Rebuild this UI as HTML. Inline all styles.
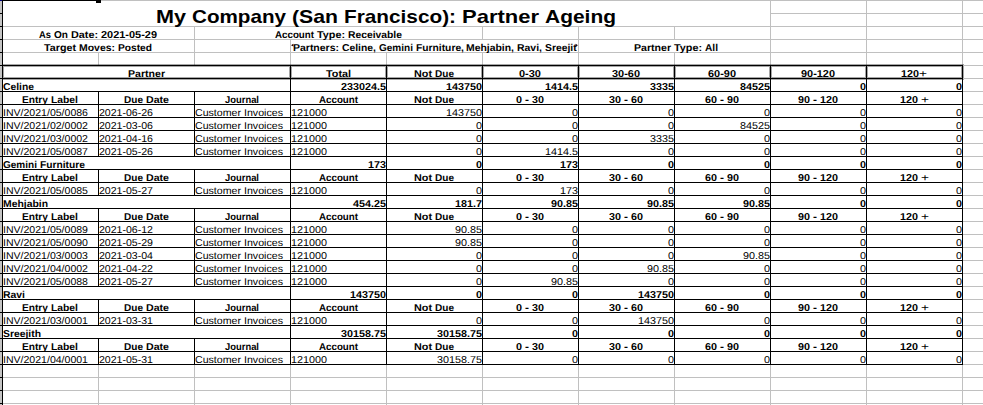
<!DOCTYPE html><html><head><meta charset="utf-8"><title>Partner Ageing</title><style>
html,body{margin:0;padding:0;background:#fff}
body{width:983px;height:405px;position:relative;overflow:hidden;font-family:"Liberation Sans", sans-serif;color:#000}
.l{position:absolute}
.w{position:absolute;display:block;white-space:pre;height:13px;line-height:13px;transform-origin:0 50%}
.R{font-size:10px;font-weight:400}.B{font-size:10px;font-weight:700}.T{font-size:19px;font-weight:700;height:26px;line-height:26px}
.clip{position:absolute;overflow:hidden;height:13px}
.T{-webkit-text-stroke:0px #000}.B{-webkit-text-stroke:0px #000}.R{-webkit-text-stroke:0px #000}
</style></head><body>
<div class="l" style="left:0px;top:0px;width:983px;height:1px;background:#c0c0c0"></div>
<div class="l" style="left:770px;top:13px;width:213px;height:1px;background:#c0c0c0"></div>
<div class="l" style="left:2px;top:26px;width:981px;height:1px;background:#c0c0c0"></div>
<div class="l" style="left:2px;top:39px;width:981px;height:1px;background:#c0c0c0"></div>
<div class="l" style="left:2px;top:52px;width:981px;height:1px;background:#c0c0c0"></div>
<div class="l" style="left:962px;top:65px;width:21px;height:1px;background:#c0c0c0"></div>
<div class="l" style="left:962px;top:78px;width:21px;height:1px;background:#c0c0c0"></div>
<div class="l" style="left:962px;top:91px;width:21px;height:1px;background:#c0c0c0"></div>
<div class="l" style="left:962px;top:104px;width:21px;height:1px;background:#c0c0c0"></div>
<div class="l" style="left:962px;top:117px;width:21px;height:1px;background:#c0c0c0"></div>
<div class="l" style="left:962px;top:130px;width:21px;height:1px;background:#c0c0c0"></div>
<div class="l" style="left:962px;top:143px;width:21px;height:1px;background:#c0c0c0"></div>
<div class="l" style="left:962px;top:156px;width:21px;height:1px;background:#c0c0c0"></div>
<div class="l" style="left:962px;top:169px;width:21px;height:1px;background:#c0c0c0"></div>
<div class="l" style="left:962px;top:182px;width:21px;height:1px;background:#c0c0c0"></div>
<div class="l" style="left:962px;top:195px;width:21px;height:1px;background:#c0c0c0"></div>
<div class="l" style="left:962px;top:208px;width:21px;height:1px;background:#c0c0c0"></div>
<div class="l" style="left:962px;top:221px;width:21px;height:1px;background:#c0c0c0"></div>
<div class="l" style="left:962px;top:234px;width:21px;height:1px;background:#c0c0c0"></div>
<div class="l" style="left:962px;top:247px;width:21px;height:1px;background:#c0c0c0"></div>
<div class="l" style="left:962px;top:260px;width:21px;height:1px;background:#c0c0c0"></div>
<div class="l" style="left:962px;top:273px;width:21px;height:1px;background:#c0c0c0"></div>
<div class="l" style="left:962px;top:286px;width:21px;height:1px;background:#c0c0c0"></div>
<div class="l" style="left:962px;top:299px;width:21px;height:1px;background:#c0c0c0"></div>
<div class="l" style="left:962px;top:312px;width:21px;height:1px;background:#c0c0c0"></div>
<div class="l" style="left:962px;top:325px;width:21px;height:1px;background:#c0c0c0"></div>
<div class="l" style="left:962px;top:338px;width:21px;height:1px;background:#c0c0c0"></div>
<div class="l" style="left:962px;top:351px;width:21px;height:1px;background:#c0c0c0"></div>
<div class="l" style="left:962px;top:364px;width:21px;height:1px;background:#c0c0c0"></div>
<div class="l" style="left:2px;top:377px;width:981px;height:1px;background:#c0c0c0"></div>
<div class="l" style="left:2px;top:390px;width:981px;height:1px;background:#c0c0c0"></div>
<div class="l" style="left:2px;top:403px;width:981px;height:1px;background:#c0c0c0"></div>
<div class="l" style="left:770px;top:0px;width:1px;height:65px;background:#c0c0c0"></div>
<div class="l" style="left:866px;top:0px;width:1px;height:65px;background:#c0c0c0"></div>
<div class="l" style="left:962px;top:0px;width:1px;height:65px;background:#c0c0c0"></div>
<div class="l" style="left:194px;top:26px;width:1px;height:39px;background:#c0c0c0"></div>
<div class="l" style="left:482px;top:26px;width:1px;height:13px;background:#c0c0c0"></div>
<div class="l" style="left:578px;top:26px;width:1px;height:39px;background:#c0c0c0"></div>
<div class="l" style="left:674px;top:26px;width:1px;height:13px;background:#c0c0c0"></div>
<div class="l" style="left:674px;top:52px;width:1px;height:13px;background:#c0c0c0"></div>
<div class="l" style="left:290px;top:39px;width:1px;height:26px;background:#c0c0c0"></div>
<div class="l" style="left:98px;top:52px;width:1px;height:13px;background:#c0c0c0"></div>
<div class="l" style="left:386px;top:52px;width:1px;height:13px;background:#c0c0c0"></div>
<div class="l" style="left:482px;top:52px;width:1px;height:13px;background:#c0c0c0"></div>
<div class="l" style="left:98px;top:364px;width:1px;height:41px;background:#c0c0c0"></div>
<div class="l" style="left:194px;top:364px;width:1px;height:41px;background:#c0c0c0"></div>
<div class="l" style="left:290px;top:364px;width:1px;height:41px;background:#c0c0c0"></div>
<div class="l" style="left:386px;top:364px;width:1px;height:41px;background:#c0c0c0"></div>
<div class="l" style="left:482px;top:364px;width:1px;height:41px;background:#c0c0c0"></div>
<div class="l" style="left:578px;top:364px;width:1px;height:41px;background:#c0c0c0"></div>
<div class="l" style="left:674px;top:364px;width:1px;height:41px;background:#c0c0c0"></div>
<div class="l" style="left:770px;top:364px;width:1px;height:41px;background:#c0c0c0"></div>
<div class="l" style="left:866px;top:364px;width:1px;height:41px;background:#c0c0c0"></div>
<div class="l" style="left:962px;top:364px;width:1px;height:41px;background:#c0c0c0"></div>
<div class="l" style="left:2px;top:78px;width:961px;height:1px;background:#000"></div>
<div class="l" style="left:2px;top:91px;width:961px;height:1px;background:#000"></div>
<div class="l" style="left:2px;top:104px;width:961px;height:1px;background:#000"></div>
<div class="l" style="left:2px;top:117px;width:961px;height:1px;background:#000"></div>
<div class="l" style="left:2px;top:130px;width:961px;height:1px;background:#000"></div>
<div class="l" style="left:2px;top:143px;width:961px;height:1px;background:#000"></div>
<div class="l" style="left:2px;top:156px;width:961px;height:1px;background:#000"></div>
<div class="l" style="left:2px;top:169px;width:961px;height:1px;background:#000"></div>
<div class="l" style="left:2px;top:182px;width:961px;height:1px;background:#000"></div>
<div class="l" style="left:2px;top:195px;width:961px;height:1px;background:#000"></div>
<div class="l" style="left:2px;top:208px;width:961px;height:1px;background:#000"></div>
<div class="l" style="left:2px;top:221px;width:961px;height:1px;background:#000"></div>
<div class="l" style="left:2px;top:234px;width:961px;height:1px;background:#000"></div>
<div class="l" style="left:2px;top:247px;width:961px;height:1px;background:#000"></div>
<div class="l" style="left:2px;top:260px;width:961px;height:1px;background:#000"></div>
<div class="l" style="left:2px;top:273px;width:961px;height:1px;background:#000"></div>
<div class="l" style="left:2px;top:286px;width:961px;height:1px;background:#000"></div>
<div class="l" style="left:2px;top:299px;width:961px;height:1px;background:#000"></div>
<div class="l" style="left:2px;top:312px;width:961px;height:1px;background:#000"></div>
<div class="l" style="left:2px;top:325px;width:961px;height:1px;background:#000"></div>
<div class="l" style="left:2px;top:338px;width:961px;height:1px;background:#000"></div>
<div class="l" style="left:2px;top:351px;width:961px;height:1px;background:#000"></div>
<div class="l" style="left:2px;top:364px;width:961px;height:1px;background:#000"></div>
<div class="l" style="left:290px;top:78px;width:1px;height:14px;background:#000"></div>
<div class="l" style="left:386px;top:78px;width:1px;height:14px;background:#000"></div>
<div class="l" style="left:482px;top:78px;width:1px;height:14px;background:#000"></div>
<div class="l" style="left:578px;top:78px;width:1px;height:14px;background:#000"></div>
<div class="l" style="left:674px;top:78px;width:1px;height:14px;background:#000"></div>
<div class="l" style="left:770px;top:78px;width:1px;height:14px;background:#000"></div>
<div class="l" style="left:866px;top:78px;width:1px;height:14px;background:#000"></div>
<div class="l" style="left:962px;top:78px;width:1px;height:14px;background:#000"></div>
<div class="l" style="left:98px;top:91px;width:1px;height:14px;background:#000"></div>
<div class="l" style="left:194px;top:91px;width:1px;height:14px;background:#000"></div>
<div class="l" style="left:290px;top:91px;width:1px;height:14px;background:#000"></div>
<div class="l" style="left:386px;top:91px;width:1px;height:14px;background:#000"></div>
<div class="l" style="left:482px;top:91px;width:1px;height:14px;background:#000"></div>
<div class="l" style="left:578px;top:91px;width:1px;height:14px;background:#000"></div>
<div class="l" style="left:674px;top:91px;width:1px;height:14px;background:#000"></div>
<div class="l" style="left:770px;top:91px;width:1px;height:14px;background:#000"></div>
<div class="l" style="left:866px;top:91px;width:1px;height:14px;background:#000"></div>
<div class="l" style="left:962px;top:91px;width:1px;height:14px;background:#000"></div>
<div class="l" style="left:98px;top:104px;width:1px;height:14px;background:#000"></div>
<div class="l" style="left:194px;top:104px;width:1px;height:14px;background:#000"></div>
<div class="l" style="left:290px;top:104px;width:1px;height:14px;background:#000"></div>
<div class="l" style="left:386px;top:104px;width:1px;height:14px;background:#000"></div>
<div class="l" style="left:482px;top:104px;width:1px;height:14px;background:#000"></div>
<div class="l" style="left:578px;top:104px;width:1px;height:14px;background:#000"></div>
<div class="l" style="left:674px;top:104px;width:1px;height:14px;background:#000"></div>
<div class="l" style="left:770px;top:104px;width:1px;height:14px;background:#000"></div>
<div class="l" style="left:866px;top:104px;width:1px;height:14px;background:#000"></div>
<div class="l" style="left:962px;top:104px;width:1px;height:14px;background:#000"></div>
<div class="l" style="left:98px;top:117px;width:1px;height:14px;background:#000"></div>
<div class="l" style="left:194px;top:117px;width:1px;height:14px;background:#000"></div>
<div class="l" style="left:290px;top:117px;width:1px;height:14px;background:#000"></div>
<div class="l" style="left:386px;top:117px;width:1px;height:14px;background:#000"></div>
<div class="l" style="left:482px;top:117px;width:1px;height:14px;background:#000"></div>
<div class="l" style="left:578px;top:117px;width:1px;height:14px;background:#000"></div>
<div class="l" style="left:674px;top:117px;width:1px;height:14px;background:#000"></div>
<div class="l" style="left:770px;top:117px;width:1px;height:14px;background:#000"></div>
<div class="l" style="left:866px;top:117px;width:1px;height:14px;background:#000"></div>
<div class="l" style="left:962px;top:117px;width:1px;height:14px;background:#000"></div>
<div class="l" style="left:98px;top:130px;width:1px;height:14px;background:#000"></div>
<div class="l" style="left:194px;top:130px;width:1px;height:14px;background:#000"></div>
<div class="l" style="left:290px;top:130px;width:1px;height:14px;background:#000"></div>
<div class="l" style="left:386px;top:130px;width:1px;height:14px;background:#000"></div>
<div class="l" style="left:482px;top:130px;width:1px;height:14px;background:#000"></div>
<div class="l" style="left:578px;top:130px;width:1px;height:14px;background:#000"></div>
<div class="l" style="left:674px;top:130px;width:1px;height:14px;background:#000"></div>
<div class="l" style="left:770px;top:130px;width:1px;height:14px;background:#000"></div>
<div class="l" style="left:866px;top:130px;width:1px;height:14px;background:#000"></div>
<div class="l" style="left:962px;top:130px;width:1px;height:14px;background:#000"></div>
<div class="l" style="left:98px;top:143px;width:1px;height:14px;background:#000"></div>
<div class="l" style="left:194px;top:143px;width:1px;height:14px;background:#000"></div>
<div class="l" style="left:290px;top:143px;width:1px;height:14px;background:#000"></div>
<div class="l" style="left:386px;top:143px;width:1px;height:14px;background:#000"></div>
<div class="l" style="left:482px;top:143px;width:1px;height:14px;background:#000"></div>
<div class="l" style="left:578px;top:143px;width:1px;height:14px;background:#000"></div>
<div class="l" style="left:674px;top:143px;width:1px;height:14px;background:#000"></div>
<div class="l" style="left:770px;top:143px;width:1px;height:14px;background:#000"></div>
<div class="l" style="left:866px;top:143px;width:1px;height:14px;background:#000"></div>
<div class="l" style="left:962px;top:143px;width:1px;height:14px;background:#000"></div>
<div class="l" style="left:290px;top:156px;width:1px;height:14px;background:#000"></div>
<div class="l" style="left:386px;top:156px;width:1px;height:14px;background:#000"></div>
<div class="l" style="left:482px;top:156px;width:1px;height:14px;background:#000"></div>
<div class="l" style="left:578px;top:156px;width:1px;height:14px;background:#000"></div>
<div class="l" style="left:674px;top:156px;width:1px;height:14px;background:#000"></div>
<div class="l" style="left:770px;top:156px;width:1px;height:14px;background:#000"></div>
<div class="l" style="left:866px;top:156px;width:1px;height:14px;background:#000"></div>
<div class="l" style="left:962px;top:156px;width:1px;height:14px;background:#000"></div>
<div class="l" style="left:98px;top:169px;width:1px;height:14px;background:#000"></div>
<div class="l" style="left:194px;top:169px;width:1px;height:14px;background:#000"></div>
<div class="l" style="left:290px;top:169px;width:1px;height:14px;background:#000"></div>
<div class="l" style="left:386px;top:169px;width:1px;height:14px;background:#000"></div>
<div class="l" style="left:482px;top:169px;width:1px;height:14px;background:#000"></div>
<div class="l" style="left:578px;top:169px;width:1px;height:14px;background:#000"></div>
<div class="l" style="left:674px;top:169px;width:1px;height:14px;background:#000"></div>
<div class="l" style="left:770px;top:169px;width:1px;height:14px;background:#000"></div>
<div class="l" style="left:866px;top:169px;width:1px;height:14px;background:#000"></div>
<div class="l" style="left:962px;top:169px;width:1px;height:14px;background:#000"></div>
<div class="l" style="left:98px;top:182px;width:1px;height:14px;background:#000"></div>
<div class="l" style="left:194px;top:182px;width:1px;height:14px;background:#000"></div>
<div class="l" style="left:290px;top:182px;width:1px;height:14px;background:#000"></div>
<div class="l" style="left:386px;top:182px;width:1px;height:14px;background:#000"></div>
<div class="l" style="left:482px;top:182px;width:1px;height:14px;background:#000"></div>
<div class="l" style="left:578px;top:182px;width:1px;height:14px;background:#000"></div>
<div class="l" style="left:674px;top:182px;width:1px;height:14px;background:#000"></div>
<div class="l" style="left:770px;top:182px;width:1px;height:14px;background:#000"></div>
<div class="l" style="left:866px;top:182px;width:1px;height:14px;background:#000"></div>
<div class="l" style="left:962px;top:182px;width:1px;height:14px;background:#000"></div>
<div class="l" style="left:290px;top:195px;width:1px;height:14px;background:#000"></div>
<div class="l" style="left:386px;top:195px;width:1px;height:14px;background:#000"></div>
<div class="l" style="left:482px;top:195px;width:1px;height:14px;background:#000"></div>
<div class="l" style="left:578px;top:195px;width:1px;height:14px;background:#000"></div>
<div class="l" style="left:674px;top:195px;width:1px;height:14px;background:#000"></div>
<div class="l" style="left:770px;top:195px;width:1px;height:14px;background:#000"></div>
<div class="l" style="left:866px;top:195px;width:1px;height:14px;background:#000"></div>
<div class="l" style="left:962px;top:195px;width:1px;height:14px;background:#000"></div>
<div class="l" style="left:98px;top:208px;width:1px;height:14px;background:#000"></div>
<div class="l" style="left:194px;top:208px;width:1px;height:14px;background:#000"></div>
<div class="l" style="left:290px;top:208px;width:1px;height:14px;background:#000"></div>
<div class="l" style="left:386px;top:208px;width:1px;height:14px;background:#000"></div>
<div class="l" style="left:482px;top:208px;width:1px;height:14px;background:#000"></div>
<div class="l" style="left:578px;top:208px;width:1px;height:14px;background:#000"></div>
<div class="l" style="left:674px;top:208px;width:1px;height:14px;background:#000"></div>
<div class="l" style="left:770px;top:208px;width:1px;height:14px;background:#000"></div>
<div class="l" style="left:866px;top:208px;width:1px;height:14px;background:#000"></div>
<div class="l" style="left:962px;top:208px;width:1px;height:14px;background:#000"></div>
<div class="l" style="left:98px;top:221px;width:1px;height:14px;background:#000"></div>
<div class="l" style="left:194px;top:221px;width:1px;height:14px;background:#000"></div>
<div class="l" style="left:290px;top:221px;width:1px;height:14px;background:#000"></div>
<div class="l" style="left:386px;top:221px;width:1px;height:14px;background:#000"></div>
<div class="l" style="left:482px;top:221px;width:1px;height:14px;background:#000"></div>
<div class="l" style="left:578px;top:221px;width:1px;height:14px;background:#000"></div>
<div class="l" style="left:674px;top:221px;width:1px;height:14px;background:#000"></div>
<div class="l" style="left:770px;top:221px;width:1px;height:14px;background:#000"></div>
<div class="l" style="left:866px;top:221px;width:1px;height:14px;background:#000"></div>
<div class="l" style="left:962px;top:221px;width:1px;height:14px;background:#000"></div>
<div class="l" style="left:98px;top:234px;width:1px;height:14px;background:#000"></div>
<div class="l" style="left:194px;top:234px;width:1px;height:14px;background:#000"></div>
<div class="l" style="left:290px;top:234px;width:1px;height:14px;background:#000"></div>
<div class="l" style="left:386px;top:234px;width:1px;height:14px;background:#000"></div>
<div class="l" style="left:482px;top:234px;width:1px;height:14px;background:#000"></div>
<div class="l" style="left:578px;top:234px;width:1px;height:14px;background:#000"></div>
<div class="l" style="left:674px;top:234px;width:1px;height:14px;background:#000"></div>
<div class="l" style="left:770px;top:234px;width:1px;height:14px;background:#000"></div>
<div class="l" style="left:866px;top:234px;width:1px;height:14px;background:#000"></div>
<div class="l" style="left:962px;top:234px;width:1px;height:14px;background:#000"></div>
<div class="l" style="left:98px;top:247px;width:1px;height:14px;background:#000"></div>
<div class="l" style="left:194px;top:247px;width:1px;height:14px;background:#000"></div>
<div class="l" style="left:290px;top:247px;width:1px;height:14px;background:#000"></div>
<div class="l" style="left:386px;top:247px;width:1px;height:14px;background:#000"></div>
<div class="l" style="left:482px;top:247px;width:1px;height:14px;background:#000"></div>
<div class="l" style="left:578px;top:247px;width:1px;height:14px;background:#000"></div>
<div class="l" style="left:674px;top:247px;width:1px;height:14px;background:#000"></div>
<div class="l" style="left:770px;top:247px;width:1px;height:14px;background:#000"></div>
<div class="l" style="left:866px;top:247px;width:1px;height:14px;background:#000"></div>
<div class="l" style="left:962px;top:247px;width:1px;height:14px;background:#000"></div>
<div class="l" style="left:98px;top:260px;width:1px;height:14px;background:#000"></div>
<div class="l" style="left:194px;top:260px;width:1px;height:14px;background:#000"></div>
<div class="l" style="left:290px;top:260px;width:1px;height:14px;background:#000"></div>
<div class="l" style="left:386px;top:260px;width:1px;height:14px;background:#000"></div>
<div class="l" style="left:482px;top:260px;width:1px;height:14px;background:#000"></div>
<div class="l" style="left:578px;top:260px;width:1px;height:14px;background:#000"></div>
<div class="l" style="left:674px;top:260px;width:1px;height:14px;background:#000"></div>
<div class="l" style="left:770px;top:260px;width:1px;height:14px;background:#000"></div>
<div class="l" style="left:866px;top:260px;width:1px;height:14px;background:#000"></div>
<div class="l" style="left:962px;top:260px;width:1px;height:14px;background:#000"></div>
<div class="l" style="left:98px;top:273px;width:1px;height:14px;background:#000"></div>
<div class="l" style="left:194px;top:273px;width:1px;height:14px;background:#000"></div>
<div class="l" style="left:290px;top:273px;width:1px;height:14px;background:#000"></div>
<div class="l" style="left:386px;top:273px;width:1px;height:14px;background:#000"></div>
<div class="l" style="left:482px;top:273px;width:1px;height:14px;background:#000"></div>
<div class="l" style="left:578px;top:273px;width:1px;height:14px;background:#000"></div>
<div class="l" style="left:674px;top:273px;width:1px;height:14px;background:#000"></div>
<div class="l" style="left:770px;top:273px;width:1px;height:14px;background:#000"></div>
<div class="l" style="left:866px;top:273px;width:1px;height:14px;background:#000"></div>
<div class="l" style="left:962px;top:273px;width:1px;height:14px;background:#000"></div>
<div class="l" style="left:290px;top:286px;width:1px;height:14px;background:#000"></div>
<div class="l" style="left:386px;top:286px;width:1px;height:14px;background:#000"></div>
<div class="l" style="left:482px;top:286px;width:1px;height:14px;background:#000"></div>
<div class="l" style="left:578px;top:286px;width:1px;height:14px;background:#000"></div>
<div class="l" style="left:674px;top:286px;width:1px;height:14px;background:#000"></div>
<div class="l" style="left:770px;top:286px;width:1px;height:14px;background:#000"></div>
<div class="l" style="left:866px;top:286px;width:1px;height:14px;background:#000"></div>
<div class="l" style="left:962px;top:286px;width:1px;height:14px;background:#000"></div>
<div class="l" style="left:98px;top:299px;width:1px;height:14px;background:#000"></div>
<div class="l" style="left:194px;top:299px;width:1px;height:14px;background:#000"></div>
<div class="l" style="left:290px;top:299px;width:1px;height:14px;background:#000"></div>
<div class="l" style="left:386px;top:299px;width:1px;height:14px;background:#000"></div>
<div class="l" style="left:482px;top:299px;width:1px;height:14px;background:#000"></div>
<div class="l" style="left:578px;top:299px;width:1px;height:14px;background:#000"></div>
<div class="l" style="left:674px;top:299px;width:1px;height:14px;background:#000"></div>
<div class="l" style="left:770px;top:299px;width:1px;height:14px;background:#000"></div>
<div class="l" style="left:866px;top:299px;width:1px;height:14px;background:#000"></div>
<div class="l" style="left:962px;top:299px;width:1px;height:14px;background:#000"></div>
<div class="l" style="left:98px;top:312px;width:1px;height:14px;background:#000"></div>
<div class="l" style="left:194px;top:312px;width:1px;height:14px;background:#000"></div>
<div class="l" style="left:290px;top:312px;width:1px;height:14px;background:#000"></div>
<div class="l" style="left:386px;top:312px;width:1px;height:14px;background:#000"></div>
<div class="l" style="left:482px;top:312px;width:1px;height:14px;background:#000"></div>
<div class="l" style="left:578px;top:312px;width:1px;height:14px;background:#000"></div>
<div class="l" style="left:674px;top:312px;width:1px;height:14px;background:#000"></div>
<div class="l" style="left:770px;top:312px;width:1px;height:14px;background:#000"></div>
<div class="l" style="left:866px;top:312px;width:1px;height:14px;background:#000"></div>
<div class="l" style="left:962px;top:312px;width:1px;height:14px;background:#000"></div>
<div class="l" style="left:290px;top:325px;width:1px;height:14px;background:#000"></div>
<div class="l" style="left:386px;top:325px;width:1px;height:14px;background:#000"></div>
<div class="l" style="left:482px;top:325px;width:1px;height:14px;background:#000"></div>
<div class="l" style="left:578px;top:325px;width:1px;height:14px;background:#000"></div>
<div class="l" style="left:674px;top:325px;width:1px;height:14px;background:#000"></div>
<div class="l" style="left:770px;top:325px;width:1px;height:14px;background:#000"></div>
<div class="l" style="left:866px;top:325px;width:1px;height:14px;background:#000"></div>
<div class="l" style="left:962px;top:325px;width:1px;height:14px;background:#000"></div>
<div class="l" style="left:98px;top:338px;width:1px;height:14px;background:#000"></div>
<div class="l" style="left:194px;top:338px;width:1px;height:14px;background:#000"></div>
<div class="l" style="left:290px;top:338px;width:1px;height:14px;background:#000"></div>
<div class="l" style="left:386px;top:338px;width:1px;height:14px;background:#000"></div>
<div class="l" style="left:482px;top:338px;width:1px;height:14px;background:#000"></div>
<div class="l" style="left:578px;top:338px;width:1px;height:14px;background:#000"></div>
<div class="l" style="left:674px;top:338px;width:1px;height:14px;background:#000"></div>
<div class="l" style="left:770px;top:338px;width:1px;height:14px;background:#000"></div>
<div class="l" style="left:866px;top:338px;width:1px;height:14px;background:#000"></div>
<div class="l" style="left:962px;top:338px;width:1px;height:14px;background:#000"></div>
<div class="l" style="left:98px;top:351px;width:1px;height:14px;background:#000"></div>
<div class="l" style="left:194px;top:351px;width:1px;height:14px;background:#000"></div>
<div class="l" style="left:290px;top:351px;width:1px;height:14px;background:#000"></div>
<div class="l" style="left:386px;top:351px;width:1px;height:14px;background:#000"></div>
<div class="l" style="left:482px;top:351px;width:1px;height:14px;background:#000"></div>
<div class="l" style="left:578px;top:351px;width:1px;height:14px;background:#000"></div>
<div class="l" style="left:674px;top:351px;width:1px;height:14px;background:#000"></div>
<div class="l" style="left:770px;top:351px;width:1px;height:14px;background:#000"></div>
<div class="l" style="left:866px;top:351px;width:1px;height:14px;background:#000"></div>
<div class="l" style="left:962px;top:351px;width:1px;height:14px;background:#000"></div>
<div class="l" style="left:2px;top:64px;width:962px;height:1px;background:rgba(0,0,0,0.35)"></div>
<div class="l" style="left:2px;top:65px;width:961px;height:1px;background:#000"></div>
<div class="l" style="left:2px;top:66px;width:962px;height:1px;background:rgba(0,0,0,0.35)"></div>
<div class="l" style="left:2px;top:77px;width:962px;height:1px;background:rgba(0,0,0,0.35)"></div>
<div class="l" style="left:2px;top:78px;width:961px;height:1px;background:#000"></div>
<div class="l" style="left:2px;top:79px;width:962px;height:1px;background:rgba(0,0,0,0.35)"></div>
<div class="l" style="left:2px;top:65px;width:1px;height:13px;background:#000"></div>
<div class="l" style="left:3px;top:67px;width:1px;height:10px;background:rgba(0,0,0,0.35)"></div>
<div class="l" style="left:290px;top:65px;width:1px;height:13px;background:#000"></div>
<div class="l" style="left:289px;top:67px;width:1px;height:10px;background:rgba(0,0,0,0.35)"></div>
<div class="l" style="left:291px;top:67px;width:1px;height:10px;background:rgba(0,0,0,0.35)"></div>
<div class="l" style="left:386px;top:65px;width:1px;height:13px;background:#000"></div>
<div class="l" style="left:385px;top:67px;width:1px;height:10px;background:rgba(0,0,0,0.35)"></div>
<div class="l" style="left:387px;top:67px;width:1px;height:10px;background:rgba(0,0,0,0.35)"></div>
<div class="l" style="left:482px;top:65px;width:1px;height:13px;background:#000"></div>
<div class="l" style="left:481px;top:67px;width:1px;height:10px;background:rgba(0,0,0,0.35)"></div>
<div class="l" style="left:483px;top:67px;width:1px;height:10px;background:rgba(0,0,0,0.35)"></div>
<div class="l" style="left:578px;top:65px;width:1px;height:13px;background:#000"></div>
<div class="l" style="left:577px;top:67px;width:1px;height:10px;background:rgba(0,0,0,0.35)"></div>
<div class="l" style="left:579px;top:67px;width:1px;height:10px;background:rgba(0,0,0,0.35)"></div>
<div class="l" style="left:674px;top:65px;width:1px;height:13px;background:#000"></div>
<div class="l" style="left:673px;top:67px;width:1px;height:10px;background:rgba(0,0,0,0.35)"></div>
<div class="l" style="left:675px;top:67px;width:1px;height:10px;background:rgba(0,0,0,0.35)"></div>
<div class="l" style="left:770px;top:65px;width:1px;height:13px;background:#000"></div>
<div class="l" style="left:769px;top:67px;width:1px;height:10px;background:rgba(0,0,0,0.35)"></div>
<div class="l" style="left:771px;top:67px;width:1px;height:10px;background:rgba(0,0,0,0.35)"></div>
<div class="l" style="left:866px;top:65px;width:1px;height:13px;background:#000"></div>
<div class="l" style="left:865px;top:67px;width:1px;height:10px;background:rgba(0,0,0,0.35)"></div>
<div class="l" style="left:867px;top:67px;width:1px;height:10px;background:rgba(0,0,0,0.35)"></div>
<div class="l" style="left:962px;top:65px;width:1px;height:13px;background:#000"></div>
<div class="l" style="left:961px;top:67px;width:1px;height:10px;background:rgba(0,0,0,0.35)"></div>
<div class="l" style="left:963px;top:67px;width:1px;height:10px;background:rgba(0,0,0,0.35)"></div>
<div class="l" style="left:0px;top:0px;width:2px;height:405px;background:#c4c4c4"></div>
<div class="l" style="left:2px;top:0px;width:1px;height:405px;background:#000"></div>
<div class="l" style="left:0px;top:13px;width:2px;height:1px;background:#000"></div>
<div class="l" style="left:0px;top:26px;width:2px;height:1px;background:#000"></div>
<div class="l" style="left:0px;top:39px;width:2px;height:1px;background:#000"></div>
<div class="l" style="left:0px;top:52px;width:2px;height:1px;background:#000"></div>
<div class="l" style="left:0px;top:65px;width:2px;height:1px;background:#000"></div>
<div class="l" style="left:0px;top:78px;width:2px;height:1px;background:#000"></div>
<div class="l" style="left:0px;top:91px;width:2px;height:1px;background:#000"></div>
<div class="l" style="left:0px;top:104px;width:2px;height:1px;background:#000"></div>
<div class="l" style="left:0px;top:117px;width:2px;height:1px;background:#000"></div>
<div class="l" style="left:0px;top:130px;width:2px;height:1px;background:#000"></div>
<div class="l" style="left:0px;top:143px;width:2px;height:1px;background:#000"></div>
<div class="l" style="left:0px;top:156px;width:2px;height:1px;background:#000"></div>
<div class="l" style="left:0px;top:169px;width:2px;height:1px;background:#000"></div>
<div class="l" style="left:0px;top:182px;width:2px;height:1px;background:#000"></div>
<div class="l" style="left:0px;top:195px;width:2px;height:1px;background:#000"></div>
<div class="l" style="left:0px;top:208px;width:2px;height:1px;background:#000"></div>
<div class="l" style="left:0px;top:221px;width:2px;height:1px;background:#000"></div>
<div class="l" style="left:0px;top:234px;width:2px;height:1px;background:#000"></div>
<div class="l" style="left:0px;top:247px;width:2px;height:1px;background:#000"></div>
<div class="l" style="left:0px;top:260px;width:2px;height:1px;background:#000"></div>
<div class="l" style="left:0px;top:273px;width:2px;height:1px;background:#000"></div>
<div class="l" style="left:0px;top:286px;width:2px;height:1px;background:#000"></div>
<div class="l" style="left:0px;top:299px;width:2px;height:1px;background:#000"></div>
<div class="l" style="left:0px;top:312px;width:2px;height:1px;background:#000"></div>
<div class="l" style="left:0px;top:325px;width:2px;height:1px;background:#000"></div>
<div class="l" style="left:0px;top:338px;width:2px;height:1px;background:#000"></div>
<div class="l" style="left:0px;top:351px;width:2px;height:1px;background:#000"></div>
<div class="l" style="left:0px;top:364px;width:2px;height:1px;background:#000"></div>
<div class="l" style="left:0px;top:377px;width:2px;height:1px;background:#000"></div>
<div class="l" style="left:0px;top:390px;width:2px;height:1px;background:#000"></div>
<div class="l" style="left:0px;top:403px;width:2px;height:1px;background:#000"></div>
<div class="l" style="left:0px;top:0px;width:3px;height:1px;background:#000080"></div>
<div class="l" style="left:2px;top:0px;width:94px;height:1px;background:#000"></div>
<div class="l" style="left:96px;top:0px;width:5px;height:3px;background:#000"></div>
<span class="w T" style="left:156.31px;top:4px;transform:scaleX(1.1361)">My</span>
<span class="w T" style="left:192.31px;top:4px;transform:scaleX(1.0857)">Company</span>
<span class="w T" style="left:292.31px;top:4px;transform:scaleX(1.1168)">(San</span>
<span class="w T" style="left:344.31px;top:4px;transform:scaleX(1.0934)">Francisco):</span>
<span class="w T" style="left:462.29px;top:4px;transform:scaleX(1.1574)">Partner</span>
<span class="w T" style="left:545.29px;top:4px;transform:scaleX(1.1026)">Ageing</span>
<span class="w B" style="left:39.30px;top:28px;transform:scaleX(0.9370) rotate(0.05deg)">As</span>
<span class="w B" style="left:54.30px;top:28px;transform:scaleX(1.0072) rotate(0.05deg)">On</span>
<span class="w B" style="left:71.30px;top:28px;transform:scaleX(1.0789) rotate(0.05deg)">Date:</span>
<span class="w B" style="left:101.30px;top:28px;transform:scaleX(1.0945) rotate(0.05deg)">2021-05-29</span>
<span class="w B" style="left:274.80px;top:28px;transform:scaleX(0.9748) rotate(0.05deg)">Account</span>
<span class="w B" style="left:316.80px;top:28px;transform:scaleX(1.0791) rotate(0.05deg)">Type:</span>
<span class="w B" style="left:347.80px;top:28px;transform:scaleX(1.0330) rotate(0.05deg)">Receivable</span>
<span class="w B" style="left:44.30px;top:41px;transform:scaleX(1.0725) rotate(0.05deg)">Target</span>
<span class="w B" style="left:79.30px;top:41px;transform:scaleX(1.0446) rotate(0.05deg)">Moves:</span>
<span class="w B" style="left:118.30px;top:41px;transform:scaleX(1.0194) rotate(0.05deg)">Posted</span>
<div class="clip" style="left:291px;top:41px;width:286px">
<span class="w B" style="left:2.00px;top:0;transform:scaleX(1.0475) rotate(0.05deg)">Partners:</span>
<span class="w B" style="left:50.83px;top:0;transform:scaleX(1.0364) rotate(0.05deg)">Celine,</span>
<span class="w B" style="left:87.70px;top:0;transform:scaleX(1.0025) rotate(0.05deg)">Gemini</span>
<span class="w B" style="left:124.57px;top:0;transform:scaleX(1.0282) rotate(0.05deg)">Furniture,</span>
<span class="w B" style="left:175.39px;top:0;transform:scaleX(1.0404) rotate(0.05deg)">Mehjabin,</span>
<span class="w B" style="left:226.21px;top:0;transform:scaleX(1.0453) rotate(0.05deg)">Ravi,</span>
<span class="w B" style="left:254.11px;top:0;transform:scaleX(1.0355) rotate(0.05deg)">Sreejith</span>
</div>
<span class="w B" style="left:634.20px;top:41px;transform:scaleX(1.0564) rotate(0.05deg)">Partner</span>
<span class="w B" style="left:674.20px;top:41px;transform:scaleX(1.0791) rotate(0.05deg)">Type:</span>
<span class="w B" style="left:705.20px;top:41px;transform:scaleX(1.0163) rotate(0.05deg)">All</span>
<span class="w B" style="left:127.80px;top:67px;transform:scaleX(1.0564) rotate(0.05deg)">Partner</span>
<span class="w B" style="left:325.80px;top:67px;transform:scaleX(1.0792) rotate(0.05deg)">Total</span>
<span class="w B" style="left:414.30px;top:67px;transform:scaleX(1.0790) rotate(0.05deg)">Not</span>
<span class="w B" style="left:435.30px;top:67px;transform:scaleX(1.0044) rotate(0.05deg)">Due</span>
<span class="w B" style="left:519.30px;top:67px;transform:scaleX(1.0986) rotate(0.05deg)">0-30</span>
<span class="w B" style="left:612.30px;top:67px;transform:scaleX(1.0943) rotate(0.05deg)">30-60</span>
<span class="w B" style="left:708.30px;top:67px;transform:scaleX(1.0943) rotate(0.05deg)">60-90</span>
<span class="w B" style="left:801.30px;top:67px;transform:scaleX(1.0915) rotate(0.05deg)">90-120</span>
<span class="w B" style="left:901.30px;top:67px;transform:scaleX(1.0780) rotate(0.05deg)">120</span>
<span class="w R" style="left:919.10px;top:67px;transform:scaleX(1.3667) rotate(0.05deg)">+</span>
<span class="w B" style="left:3.00px;top:80px;transform:scaleX(1.0325) rotate(0.05deg)">Celine</span>
<span class="w B" style="left:341.00px;top:80px;transform:scaleX(1.0784) rotate(0.05deg)">233024.5</span>
<span class="w B" style="left:446.00px;top:80px;transform:scaleX(1.0783) rotate(0.05deg)">143750</span>
<span class="w B" style="left:545.00px;top:80px;transform:scaleX(1.0783) rotate(0.05deg)">1414.5</span>
<span class="w B" style="left:650.00px;top:80px;transform:scaleX(1.0782) rotate(0.05deg)">3335</span>
<span class="w B" style="left:740.00px;top:80px;transform:scaleX(1.0783) rotate(0.05deg)">84525</span>
<span class="w B" style="left:860.00px;top:80px;transform:scaleX(1.0768) rotate(0.05deg)">0</span>
<span class="w B" style="left:956.00px;top:80px;transform:scaleX(1.0768) rotate(0.05deg)">0</span>
<span class="w B" style="left:22.30px;top:93px;transform:scaleX(1.0167) rotate(0.05deg)">Entry</span>
<span class="w B" style="left:51.30px;top:93px;transform:scaleX(1.0331) rotate(0.05deg)">Label</span>
<span class="w B" style="left:123.80px;top:93px;transform:scaleX(1.0044) rotate(0.05deg)">Due</span>
<span class="w B" style="left:145.80px;top:93px;transform:scaleX(1.0600) rotate(0.05deg)">Date</span>
<span class="w B" style="left:225.30px;top:93px;transform:scaleX(0.9409) rotate(0.05deg)">Journal</span>
<span class="w B" style="left:318.80px;top:93px;transform:scaleX(0.9748) rotate(0.05deg)">Account</span>
<span class="w B" style="left:414.30px;top:93px;transform:scaleX(1.0790) rotate(0.05deg)">Not</span>
<span class="w B" style="left:435.30px;top:93px;transform:scaleX(1.0044) rotate(0.05deg)">Due</span>
<span class="w B" style="left:516.30px;top:93px;transform:scaleX(1.0768) rotate(0.05deg)">0</span>
<span class="w B" style="left:525.30px;top:93px;transform:scaleX(1.1928) rotate(0.05deg)">-</span>
<span class="w B" style="left:532.30px;top:93px;transform:scaleX(1.0777) rotate(0.05deg)">30</span>
<span class="w B" style="left:609.30px;top:93px;transform:scaleX(1.0777) rotate(0.05deg)">30</span>
<span class="w B" style="left:624.30px;top:93px;transform:scaleX(1.1928) rotate(0.05deg)">-</span>
<span class="w B" style="left:631.30px;top:93px;transform:scaleX(1.0777) rotate(0.05deg)">60</span>
<span class="w B" style="left:705.30px;top:93px;transform:scaleX(1.0777) rotate(0.05deg)">60</span>
<span class="w B" style="left:720.30px;top:93px;transform:scaleX(1.1928) rotate(0.05deg)">-</span>
<span class="w B" style="left:727.30px;top:93px;transform:scaleX(1.0777) rotate(0.05deg)">90</span>
<span class="w B" style="left:798.30px;top:93px;transform:scaleX(1.0777) rotate(0.05deg)">90</span>
<span class="w B" style="left:813.30px;top:93px;transform:scaleX(1.1928) rotate(0.05deg)">-</span>
<span class="w B" style="left:820.30px;top:93px;transform:scaleX(1.0780) rotate(0.05deg)">120</span>
<span class="w B" style="left:899.80px;top:93px;transform:scaleX(1.0780) rotate(0.05deg)">120</span>
<span class="w R" style="left:920.60px;top:93px;transform:scaleX(1.3667) rotate(0.05deg)">+</span>
<span class="w R" style="left:3.00px;top:106px;transform:scaleX(1.0541) rotate(0.05deg)">INV/2021/05/0086</span>
<span class="w R" style="left:99.00px;top:106px;transform:scaleX(1.0554) rotate(0.05deg)">2021-06-26</span>
<span class="w R" style="left:195.00px;top:106px;transform:scaleX(1.0607) rotate(0.05deg)">Customer</span>
<span class="w R" style="left:244.00px;top:106px;transform:scaleX(1.0628) rotate(0.05deg)">Invoices</span>
<span class="w R" style="left:291.00px;top:106px;transform:scaleX(1.0783) rotate(0.05deg)">121000</span>
<span class="w R" style="left:446.00px;top:106px;transform:scaleX(1.0783) rotate(0.05deg)">143750</span>
<span class="w R" style="left:572.00px;top:106px;transform:scaleX(1.0768) rotate(0.05deg)">0</span>
<span class="w R" style="left:668.00px;top:106px;transform:scaleX(1.0768) rotate(0.05deg)">0</span>
<span class="w R" style="left:764.00px;top:106px;transform:scaleX(1.0768) rotate(0.05deg)">0</span>
<span class="w R" style="left:860.00px;top:106px;transform:scaleX(1.0768) rotate(0.05deg)">0</span>
<span class="w R" style="left:956.00px;top:106px;transform:scaleX(1.0768) rotate(0.05deg)">0</span>
<span class="w R" style="left:3.00px;top:119px;transform:scaleX(1.0541) rotate(0.05deg)">INV/2021/02/0002</span>
<span class="w R" style="left:99.00px;top:119px;transform:scaleX(1.0554) rotate(0.05deg)">2021-03-06</span>
<span class="w R" style="left:195.00px;top:119px;transform:scaleX(1.0607) rotate(0.05deg)">Customer</span>
<span class="w R" style="left:244.00px;top:119px;transform:scaleX(1.0628) rotate(0.05deg)">Invoices</span>
<span class="w R" style="left:291.00px;top:119px;transform:scaleX(1.0783) rotate(0.05deg)">121000</span>
<span class="w R" style="left:476.00px;top:119px;transform:scaleX(1.0768) rotate(0.05deg)">0</span>
<span class="w R" style="left:572.00px;top:119px;transform:scaleX(1.0768) rotate(0.05deg)">0</span>
<span class="w R" style="left:668.00px;top:119px;transform:scaleX(1.0768) rotate(0.05deg)">0</span>
<span class="w R" style="left:740.00px;top:119px;transform:scaleX(1.0783) rotate(0.05deg)">84525</span>
<span class="w R" style="left:860.00px;top:119px;transform:scaleX(1.0768) rotate(0.05deg)">0</span>
<span class="w R" style="left:956.00px;top:119px;transform:scaleX(1.0768) rotate(0.05deg)">0</span>
<span class="w R" style="left:3.00px;top:132px;transform:scaleX(1.0541) rotate(0.05deg)">INV/2021/03/0002</span>
<span class="w R" style="left:99.00px;top:132px;transform:scaleX(1.0554) rotate(0.05deg)">2021-04-16</span>
<span class="w R" style="left:195.00px;top:132px;transform:scaleX(1.0607) rotate(0.05deg)">Customer</span>
<span class="w R" style="left:244.00px;top:132px;transform:scaleX(1.0628) rotate(0.05deg)">Invoices</span>
<span class="w R" style="left:291.00px;top:132px;transform:scaleX(1.0783) rotate(0.05deg)">121000</span>
<span class="w R" style="left:476.00px;top:132px;transform:scaleX(1.0768) rotate(0.05deg)">0</span>
<span class="w R" style="left:572.00px;top:132px;transform:scaleX(1.0768) rotate(0.05deg)">0</span>
<span class="w R" style="left:650.00px;top:132px;transform:scaleX(1.0782) rotate(0.05deg)">3335</span>
<span class="w R" style="left:764.00px;top:132px;transform:scaleX(1.0768) rotate(0.05deg)">0</span>
<span class="w R" style="left:860.00px;top:132px;transform:scaleX(1.0768) rotate(0.05deg)">0</span>
<span class="w R" style="left:956.00px;top:132px;transform:scaleX(1.0768) rotate(0.05deg)">0</span>
<span class="w R" style="left:3.00px;top:145px;transform:scaleX(1.0541) rotate(0.05deg)">INV/2021/05/0087</span>
<span class="w R" style="left:99.00px;top:145px;transform:scaleX(1.0554) rotate(0.05deg)">2021-05-26</span>
<span class="w R" style="left:195.00px;top:145px;transform:scaleX(1.0607) rotate(0.05deg)">Customer</span>
<span class="w R" style="left:244.00px;top:145px;transform:scaleX(1.0628) rotate(0.05deg)">Invoices</span>
<span class="w R" style="left:291.00px;top:145px;transform:scaleX(1.0783) rotate(0.05deg)">121000</span>
<span class="w R" style="left:476.00px;top:145px;transform:scaleX(1.0768) rotate(0.05deg)">0</span>
<span class="w R" style="left:545.00px;top:145px;transform:scaleX(1.0783) rotate(0.05deg)">1414.5</span>
<span class="w R" style="left:668.00px;top:145px;transform:scaleX(1.0768) rotate(0.05deg)">0</span>
<span class="w R" style="left:764.00px;top:145px;transform:scaleX(1.0768) rotate(0.05deg)">0</span>
<span class="w R" style="left:860.00px;top:145px;transform:scaleX(1.0768) rotate(0.05deg)">0</span>
<span class="w R" style="left:956.00px;top:145px;transform:scaleX(1.0768) rotate(0.05deg)">0</span>
<span class="w B" style="left:3.00px;top:158px;transform:scaleX(1.0025) rotate(0.05deg)">Gemini</span>
<span class="w B" style="left:40.00px;top:158px;transform:scaleX(1.0251) rotate(0.05deg)">Furniture</span>
<span class="w B" style="left:368.00px;top:158px;transform:scaleX(1.0780) rotate(0.05deg)">173</span>
<span class="w B" style="left:476.00px;top:158px;transform:scaleX(1.0768) rotate(0.05deg)">0</span>
<span class="w B" style="left:560.00px;top:158px;transform:scaleX(1.0780) rotate(0.05deg)">173</span>
<span class="w B" style="left:668.00px;top:158px;transform:scaleX(1.0768) rotate(0.05deg)">0</span>
<span class="w B" style="left:764.00px;top:158px;transform:scaleX(1.0768) rotate(0.05deg)">0</span>
<span class="w B" style="left:860.00px;top:158px;transform:scaleX(1.0768) rotate(0.05deg)">0</span>
<span class="w B" style="left:956.00px;top:158px;transform:scaleX(1.0768) rotate(0.05deg)">0</span>
<span class="w B" style="left:22.30px;top:171px;transform:scaleX(1.0167) rotate(0.05deg)">Entry</span>
<span class="w B" style="left:51.30px;top:171px;transform:scaleX(1.0331) rotate(0.05deg)">Label</span>
<span class="w B" style="left:123.80px;top:171px;transform:scaleX(1.0044) rotate(0.05deg)">Due</span>
<span class="w B" style="left:145.80px;top:171px;transform:scaleX(1.0600) rotate(0.05deg)">Date</span>
<span class="w B" style="left:225.30px;top:171px;transform:scaleX(0.9409) rotate(0.05deg)">Journal</span>
<span class="w B" style="left:318.80px;top:171px;transform:scaleX(0.9748) rotate(0.05deg)">Account</span>
<span class="w B" style="left:414.30px;top:171px;transform:scaleX(1.0790) rotate(0.05deg)">Not</span>
<span class="w B" style="left:435.30px;top:171px;transform:scaleX(1.0044) rotate(0.05deg)">Due</span>
<span class="w B" style="left:516.30px;top:171px;transform:scaleX(1.0768) rotate(0.05deg)">0</span>
<span class="w B" style="left:525.30px;top:171px;transform:scaleX(1.1928) rotate(0.05deg)">-</span>
<span class="w B" style="left:532.30px;top:171px;transform:scaleX(1.0777) rotate(0.05deg)">30</span>
<span class="w B" style="left:609.30px;top:171px;transform:scaleX(1.0777) rotate(0.05deg)">30</span>
<span class="w B" style="left:624.30px;top:171px;transform:scaleX(1.1928) rotate(0.05deg)">-</span>
<span class="w B" style="left:631.30px;top:171px;transform:scaleX(1.0777) rotate(0.05deg)">60</span>
<span class="w B" style="left:705.30px;top:171px;transform:scaleX(1.0777) rotate(0.05deg)">60</span>
<span class="w B" style="left:720.30px;top:171px;transform:scaleX(1.1928) rotate(0.05deg)">-</span>
<span class="w B" style="left:727.30px;top:171px;transform:scaleX(1.0777) rotate(0.05deg)">90</span>
<span class="w B" style="left:798.30px;top:171px;transform:scaleX(1.0777) rotate(0.05deg)">90</span>
<span class="w B" style="left:813.30px;top:171px;transform:scaleX(1.1928) rotate(0.05deg)">-</span>
<span class="w B" style="left:820.30px;top:171px;transform:scaleX(1.0780) rotate(0.05deg)">120</span>
<span class="w B" style="left:899.80px;top:171px;transform:scaleX(1.0780) rotate(0.05deg)">120</span>
<span class="w R" style="left:920.60px;top:171px;transform:scaleX(1.3667) rotate(0.05deg)">+</span>
<span class="w R" style="left:3.00px;top:184px;transform:scaleX(1.0541) rotate(0.05deg)">INV/2021/05/0085</span>
<span class="w R" style="left:99.00px;top:184px;transform:scaleX(1.0554) rotate(0.05deg)">2021-05-27</span>
<span class="w R" style="left:195.00px;top:184px;transform:scaleX(1.0607) rotate(0.05deg)">Customer</span>
<span class="w R" style="left:244.00px;top:184px;transform:scaleX(1.0628) rotate(0.05deg)">Invoices</span>
<span class="w R" style="left:291.00px;top:184px;transform:scaleX(1.0783) rotate(0.05deg)">121000</span>
<span class="w R" style="left:476.00px;top:184px;transform:scaleX(1.0768) rotate(0.05deg)">0</span>
<span class="w R" style="left:560.00px;top:184px;transform:scaleX(1.0780) rotate(0.05deg)">173</span>
<span class="w R" style="left:668.00px;top:184px;transform:scaleX(1.0768) rotate(0.05deg)">0</span>
<span class="w R" style="left:764.00px;top:184px;transform:scaleX(1.0768) rotate(0.05deg)">0</span>
<span class="w R" style="left:860.00px;top:184px;transform:scaleX(1.0768) rotate(0.05deg)">0</span>
<span class="w R" style="left:956.00px;top:184px;transform:scaleX(1.0768) rotate(0.05deg)">0</span>
<span class="w B" style="left:3.00px;top:197px;transform:scaleX(1.0380) rotate(0.05deg)">Mehjabin</span>
<span class="w B" style="left:353.00px;top:197px;transform:scaleX(1.0783) rotate(0.05deg)">454.25</span>
<span class="w B" style="left:455.00px;top:197px;transform:scaleX(1.0782) rotate(0.05deg)">181.7</span>
<span class="w B" style="left:551.00px;top:197px;transform:scaleX(1.0782) rotate(0.05deg)">90.85</span>
<span class="w B" style="left:647.00px;top:197px;transform:scaleX(1.0782) rotate(0.05deg)">90.85</span>
<span class="w B" style="left:743.00px;top:197px;transform:scaleX(1.0782) rotate(0.05deg)">90.85</span>
<span class="w B" style="left:860.00px;top:197px;transform:scaleX(1.0768) rotate(0.05deg)">0</span>
<span class="w B" style="left:956.00px;top:197px;transform:scaleX(1.0768) rotate(0.05deg)">0</span>
<span class="w B" style="left:22.30px;top:210px;transform:scaleX(1.0167) rotate(0.05deg)">Entry</span>
<span class="w B" style="left:51.30px;top:210px;transform:scaleX(1.0331) rotate(0.05deg)">Label</span>
<span class="w B" style="left:123.80px;top:210px;transform:scaleX(1.0044) rotate(0.05deg)">Due</span>
<span class="w B" style="left:145.80px;top:210px;transform:scaleX(1.0600) rotate(0.05deg)">Date</span>
<span class="w B" style="left:225.30px;top:210px;transform:scaleX(0.9409) rotate(0.05deg)">Journal</span>
<span class="w B" style="left:318.80px;top:210px;transform:scaleX(0.9748) rotate(0.05deg)">Account</span>
<span class="w B" style="left:414.30px;top:210px;transform:scaleX(1.0790) rotate(0.05deg)">Not</span>
<span class="w B" style="left:435.30px;top:210px;transform:scaleX(1.0044) rotate(0.05deg)">Due</span>
<span class="w B" style="left:516.30px;top:210px;transform:scaleX(1.0768) rotate(0.05deg)">0</span>
<span class="w B" style="left:525.30px;top:210px;transform:scaleX(1.1928) rotate(0.05deg)">-</span>
<span class="w B" style="left:532.30px;top:210px;transform:scaleX(1.0777) rotate(0.05deg)">30</span>
<span class="w B" style="left:609.30px;top:210px;transform:scaleX(1.0777) rotate(0.05deg)">30</span>
<span class="w B" style="left:624.30px;top:210px;transform:scaleX(1.1928) rotate(0.05deg)">-</span>
<span class="w B" style="left:631.30px;top:210px;transform:scaleX(1.0777) rotate(0.05deg)">60</span>
<span class="w B" style="left:705.30px;top:210px;transform:scaleX(1.0777) rotate(0.05deg)">60</span>
<span class="w B" style="left:720.30px;top:210px;transform:scaleX(1.1928) rotate(0.05deg)">-</span>
<span class="w B" style="left:727.30px;top:210px;transform:scaleX(1.0777) rotate(0.05deg)">90</span>
<span class="w B" style="left:798.30px;top:210px;transform:scaleX(1.0777) rotate(0.05deg)">90</span>
<span class="w B" style="left:813.30px;top:210px;transform:scaleX(1.1928) rotate(0.05deg)">-</span>
<span class="w B" style="left:820.30px;top:210px;transform:scaleX(1.0780) rotate(0.05deg)">120</span>
<span class="w B" style="left:899.80px;top:210px;transform:scaleX(1.0780) rotate(0.05deg)">120</span>
<span class="w R" style="left:920.60px;top:210px;transform:scaleX(1.3667) rotate(0.05deg)">+</span>
<span class="w R" style="left:3.00px;top:223px;transform:scaleX(1.0541) rotate(0.05deg)">INV/2021/05/0089</span>
<span class="w R" style="left:99.00px;top:223px;transform:scaleX(1.0554) rotate(0.05deg)">2021-06-12</span>
<span class="w R" style="left:195.00px;top:223px;transform:scaleX(1.0607) rotate(0.05deg)">Customer</span>
<span class="w R" style="left:244.00px;top:223px;transform:scaleX(1.0628) rotate(0.05deg)">Invoices</span>
<span class="w R" style="left:291.00px;top:223px;transform:scaleX(1.0783) rotate(0.05deg)">121000</span>
<span class="w R" style="left:455.00px;top:223px;transform:scaleX(1.0782) rotate(0.05deg)">90.85</span>
<span class="w R" style="left:572.00px;top:223px;transform:scaleX(1.0768) rotate(0.05deg)">0</span>
<span class="w R" style="left:668.00px;top:223px;transform:scaleX(1.0768) rotate(0.05deg)">0</span>
<span class="w R" style="left:764.00px;top:223px;transform:scaleX(1.0768) rotate(0.05deg)">0</span>
<span class="w R" style="left:860.00px;top:223px;transform:scaleX(1.0768) rotate(0.05deg)">0</span>
<span class="w R" style="left:956.00px;top:223px;transform:scaleX(1.0768) rotate(0.05deg)">0</span>
<span class="w R" style="left:3.00px;top:236px;transform:scaleX(1.0541) rotate(0.05deg)">INV/2021/05/0090</span>
<span class="w R" style="left:99.00px;top:236px;transform:scaleX(1.0554) rotate(0.05deg)">2021-05-29</span>
<span class="w R" style="left:195.00px;top:236px;transform:scaleX(1.0607) rotate(0.05deg)">Customer</span>
<span class="w R" style="left:244.00px;top:236px;transform:scaleX(1.0628) rotate(0.05deg)">Invoices</span>
<span class="w R" style="left:291.00px;top:236px;transform:scaleX(1.0783) rotate(0.05deg)">121000</span>
<span class="w R" style="left:455.00px;top:236px;transform:scaleX(1.0782) rotate(0.05deg)">90.85</span>
<span class="w R" style="left:572.00px;top:236px;transform:scaleX(1.0768) rotate(0.05deg)">0</span>
<span class="w R" style="left:668.00px;top:236px;transform:scaleX(1.0768) rotate(0.05deg)">0</span>
<span class="w R" style="left:764.00px;top:236px;transform:scaleX(1.0768) rotate(0.05deg)">0</span>
<span class="w R" style="left:860.00px;top:236px;transform:scaleX(1.0768) rotate(0.05deg)">0</span>
<span class="w R" style="left:956.00px;top:236px;transform:scaleX(1.0768) rotate(0.05deg)">0</span>
<span class="w R" style="left:3.00px;top:249px;transform:scaleX(1.0541) rotate(0.05deg)">INV/2021/03/0003</span>
<span class="w R" style="left:99.00px;top:249px;transform:scaleX(1.0554) rotate(0.05deg)">2021-03-04</span>
<span class="w R" style="left:195.00px;top:249px;transform:scaleX(1.0607) rotate(0.05deg)">Customer</span>
<span class="w R" style="left:244.00px;top:249px;transform:scaleX(1.0628) rotate(0.05deg)">Invoices</span>
<span class="w R" style="left:291.00px;top:249px;transform:scaleX(1.0783) rotate(0.05deg)">121000</span>
<span class="w R" style="left:476.00px;top:249px;transform:scaleX(1.0768) rotate(0.05deg)">0</span>
<span class="w R" style="left:572.00px;top:249px;transform:scaleX(1.0768) rotate(0.05deg)">0</span>
<span class="w R" style="left:668.00px;top:249px;transform:scaleX(1.0768) rotate(0.05deg)">0</span>
<span class="w R" style="left:743.00px;top:249px;transform:scaleX(1.0782) rotate(0.05deg)">90.85</span>
<span class="w R" style="left:860.00px;top:249px;transform:scaleX(1.0768) rotate(0.05deg)">0</span>
<span class="w R" style="left:956.00px;top:249px;transform:scaleX(1.0768) rotate(0.05deg)">0</span>
<span class="w R" style="left:3.00px;top:262px;transform:scaleX(1.0541) rotate(0.05deg)">INV/2021/04/0002</span>
<span class="w R" style="left:99.00px;top:262px;transform:scaleX(1.0554) rotate(0.05deg)">2021-04-22</span>
<span class="w R" style="left:195.00px;top:262px;transform:scaleX(1.0607) rotate(0.05deg)">Customer</span>
<span class="w R" style="left:244.00px;top:262px;transform:scaleX(1.0628) rotate(0.05deg)">Invoices</span>
<span class="w R" style="left:291.00px;top:262px;transform:scaleX(1.0783) rotate(0.05deg)">121000</span>
<span class="w R" style="left:476.00px;top:262px;transform:scaleX(1.0768) rotate(0.05deg)">0</span>
<span class="w R" style="left:572.00px;top:262px;transform:scaleX(1.0768) rotate(0.05deg)">0</span>
<span class="w R" style="left:647.00px;top:262px;transform:scaleX(1.0782) rotate(0.05deg)">90.85</span>
<span class="w R" style="left:764.00px;top:262px;transform:scaleX(1.0768) rotate(0.05deg)">0</span>
<span class="w R" style="left:860.00px;top:262px;transform:scaleX(1.0768) rotate(0.05deg)">0</span>
<span class="w R" style="left:956.00px;top:262px;transform:scaleX(1.0768) rotate(0.05deg)">0</span>
<span class="w R" style="left:3.00px;top:275px;transform:scaleX(1.0541) rotate(0.05deg)">INV/2021/05/0088</span>
<span class="w R" style="left:99.00px;top:275px;transform:scaleX(1.0554) rotate(0.05deg)">2021-05-27</span>
<span class="w R" style="left:195.00px;top:275px;transform:scaleX(1.0607) rotate(0.05deg)">Customer</span>
<span class="w R" style="left:244.00px;top:275px;transform:scaleX(1.0628) rotate(0.05deg)">Invoices</span>
<span class="w R" style="left:291.00px;top:275px;transform:scaleX(1.0783) rotate(0.05deg)">121000</span>
<span class="w R" style="left:476.00px;top:275px;transform:scaleX(1.0768) rotate(0.05deg)">0</span>
<span class="w R" style="left:551.00px;top:275px;transform:scaleX(1.0782) rotate(0.05deg)">90.85</span>
<span class="w R" style="left:668.00px;top:275px;transform:scaleX(1.0768) rotate(0.05deg)">0</span>
<span class="w R" style="left:764.00px;top:275px;transform:scaleX(1.0768) rotate(0.05deg)">0</span>
<span class="w R" style="left:860.00px;top:275px;transform:scaleX(1.0768) rotate(0.05deg)">0</span>
<span class="w R" style="left:956.00px;top:275px;transform:scaleX(1.0768) rotate(0.05deg)">0</span>
<span class="w B" style="left:3.00px;top:288px;transform:scaleX(1.0409) rotate(0.05deg)">Ravi</span>
<span class="w B" style="left:350.00px;top:288px;transform:scaleX(1.0783) rotate(0.05deg)">143750</span>
<span class="w B" style="left:476.00px;top:288px;transform:scaleX(1.0768) rotate(0.05deg)">0</span>
<span class="w B" style="left:572.00px;top:288px;transform:scaleX(1.0768) rotate(0.05deg)">0</span>
<span class="w B" style="left:638.00px;top:288px;transform:scaleX(1.0783) rotate(0.05deg)">143750</span>
<span class="w B" style="left:764.00px;top:288px;transform:scaleX(1.0768) rotate(0.05deg)">0</span>
<span class="w B" style="left:860.00px;top:288px;transform:scaleX(1.0768) rotate(0.05deg)">0</span>
<span class="w B" style="left:956.00px;top:288px;transform:scaleX(1.0768) rotate(0.05deg)">0</span>
<span class="w B" style="left:22.30px;top:301px;transform:scaleX(1.0167) rotate(0.05deg)">Entry</span>
<span class="w B" style="left:51.30px;top:301px;transform:scaleX(1.0331) rotate(0.05deg)">Label</span>
<span class="w B" style="left:123.80px;top:301px;transform:scaleX(1.0044) rotate(0.05deg)">Due</span>
<span class="w B" style="left:145.80px;top:301px;transform:scaleX(1.0600) rotate(0.05deg)">Date</span>
<span class="w B" style="left:225.30px;top:301px;transform:scaleX(0.9409) rotate(0.05deg)">Journal</span>
<span class="w B" style="left:318.80px;top:301px;transform:scaleX(0.9748) rotate(0.05deg)">Account</span>
<span class="w B" style="left:414.30px;top:301px;transform:scaleX(1.0790) rotate(0.05deg)">Not</span>
<span class="w B" style="left:435.30px;top:301px;transform:scaleX(1.0044) rotate(0.05deg)">Due</span>
<span class="w B" style="left:516.30px;top:301px;transform:scaleX(1.0768) rotate(0.05deg)">0</span>
<span class="w B" style="left:525.30px;top:301px;transform:scaleX(1.1928) rotate(0.05deg)">-</span>
<span class="w B" style="left:532.30px;top:301px;transform:scaleX(1.0777) rotate(0.05deg)">30</span>
<span class="w B" style="left:609.30px;top:301px;transform:scaleX(1.0777) rotate(0.05deg)">30</span>
<span class="w B" style="left:624.30px;top:301px;transform:scaleX(1.1928) rotate(0.05deg)">-</span>
<span class="w B" style="left:631.30px;top:301px;transform:scaleX(1.0777) rotate(0.05deg)">60</span>
<span class="w B" style="left:705.30px;top:301px;transform:scaleX(1.0777) rotate(0.05deg)">60</span>
<span class="w B" style="left:720.30px;top:301px;transform:scaleX(1.1928) rotate(0.05deg)">-</span>
<span class="w B" style="left:727.30px;top:301px;transform:scaleX(1.0777) rotate(0.05deg)">90</span>
<span class="w B" style="left:798.30px;top:301px;transform:scaleX(1.0777) rotate(0.05deg)">90</span>
<span class="w B" style="left:813.30px;top:301px;transform:scaleX(1.1928) rotate(0.05deg)">-</span>
<span class="w B" style="left:820.30px;top:301px;transform:scaleX(1.0780) rotate(0.05deg)">120</span>
<span class="w B" style="left:899.80px;top:301px;transform:scaleX(1.0780) rotate(0.05deg)">120</span>
<span class="w R" style="left:920.60px;top:301px;transform:scaleX(1.3667) rotate(0.05deg)">+</span>
<span class="w R" style="left:3.00px;top:314px;transform:scaleX(1.0541) rotate(0.05deg)">INV/2021/03/0001</span>
<span class="w R" style="left:99.00px;top:314px;transform:scaleX(1.0554) rotate(0.05deg)">2021-03-31</span>
<span class="w R" style="left:195.00px;top:314px;transform:scaleX(1.0607) rotate(0.05deg)">Customer</span>
<span class="w R" style="left:244.00px;top:314px;transform:scaleX(1.0628) rotate(0.05deg)">Invoices</span>
<span class="w R" style="left:291.00px;top:314px;transform:scaleX(1.0783) rotate(0.05deg)">121000</span>
<span class="w R" style="left:476.00px;top:314px;transform:scaleX(1.0768) rotate(0.05deg)">0</span>
<span class="w R" style="left:572.00px;top:314px;transform:scaleX(1.0768) rotate(0.05deg)">0</span>
<span class="w R" style="left:638.00px;top:314px;transform:scaleX(1.0783) rotate(0.05deg)">143750</span>
<span class="w R" style="left:764.00px;top:314px;transform:scaleX(1.0768) rotate(0.05deg)">0</span>
<span class="w R" style="left:860.00px;top:314px;transform:scaleX(1.0768) rotate(0.05deg)">0</span>
<span class="w R" style="left:956.00px;top:314px;transform:scaleX(1.0768) rotate(0.05deg)">0</span>
<span class="w B" style="left:3.00px;top:327px;transform:scaleX(1.0355) rotate(0.05deg)">Sreejith</span>
<span class="w B" style="left:341.00px;top:327px;transform:scaleX(1.0784) rotate(0.05deg)">30158.75</span>
<span class="w B" style="left:437.00px;top:327px;transform:scaleX(1.0784) rotate(0.05deg)">30158.75</span>
<span class="w B" style="left:572.00px;top:327px;transform:scaleX(1.0768) rotate(0.05deg)">0</span>
<span class="w B" style="left:668.00px;top:327px;transform:scaleX(1.0768) rotate(0.05deg)">0</span>
<span class="w B" style="left:764.00px;top:327px;transform:scaleX(1.0768) rotate(0.05deg)">0</span>
<span class="w B" style="left:860.00px;top:327px;transform:scaleX(1.0768) rotate(0.05deg)">0</span>
<span class="w B" style="left:956.00px;top:327px;transform:scaleX(1.0768) rotate(0.05deg)">0</span>
<span class="w B" style="left:22.30px;top:340px;transform:scaleX(1.0167) rotate(0.05deg)">Entry</span>
<span class="w B" style="left:51.30px;top:340px;transform:scaleX(1.0331) rotate(0.05deg)">Label</span>
<span class="w B" style="left:123.80px;top:340px;transform:scaleX(1.0044) rotate(0.05deg)">Due</span>
<span class="w B" style="left:145.80px;top:340px;transform:scaleX(1.0600) rotate(0.05deg)">Date</span>
<span class="w B" style="left:225.30px;top:340px;transform:scaleX(0.9409) rotate(0.05deg)">Journal</span>
<span class="w B" style="left:318.80px;top:340px;transform:scaleX(0.9748) rotate(0.05deg)">Account</span>
<span class="w B" style="left:414.30px;top:340px;transform:scaleX(1.0790) rotate(0.05deg)">Not</span>
<span class="w B" style="left:435.30px;top:340px;transform:scaleX(1.0044) rotate(0.05deg)">Due</span>
<span class="w B" style="left:516.30px;top:340px;transform:scaleX(1.0768) rotate(0.05deg)">0</span>
<span class="w B" style="left:525.30px;top:340px;transform:scaleX(1.1928) rotate(0.05deg)">-</span>
<span class="w B" style="left:532.30px;top:340px;transform:scaleX(1.0777) rotate(0.05deg)">30</span>
<span class="w B" style="left:609.30px;top:340px;transform:scaleX(1.0777) rotate(0.05deg)">30</span>
<span class="w B" style="left:624.30px;top:340px;transform:scaleX(1.1928) rotate(0.05deg)">-</span>
<span class="w B" style="left:631.30px;top:340px;transform:scaleX(1.0777) rotate(0.05deg)">60</span>
<span class="w B" style="left:705.30px;top:340px;transform:scaleX(1.0777) rotate(0.05deg)">60</span>
<span class="w B" style="left:720.30px;top:340px;transform:scaleX(1.1928) rotate(0.05deg)">-</span>
<span class="w B" style="left:727.30px;top:340px;transform:scaleX(1.0777) rotate(0.05deg)">90</span>
<span class="w B" style="left:798.30px;top:340px;transform:scaleX(1.0777) rotate(0.05deg)">90</span>
<span class="w B" style="left:813.30px;top:340px;transform:scaleX(1.1928) rotate(0.05deg)">-</span>
<span class="w B" style="left:820.30px;top:340px;transform:scaleX(1.0780) rotate(0.05deg)">120</span>
<span class="w B" style="left:899.80px;top:340px;transform:scaleX(1.0780) rotate(0.05deg)">120</span>
<span class="w R" style="left:920.60px;top:340px;transform:scaleX(1.3667) rotate(0.05deg)">+</span>
<span class="w R" style="left:3.00px;top:353px;transform:scaleX(1.0541) rotate(0.05deg)">INV/2021/04/0001</span>
<span class="w R" style="left:99.00px;top:353px;transform:scaleX(1.0554) rotate(0.05deg)">2021-05-31</span>
<span class="w R" style="left:195.00px;top:353px;transform:scaleX(1.0607) rotate(0.05deg)">Customer</span>
<span class="w R" style="left:244.00px;top:353px;transform:scaleX(1.0628) rotate(0.05deg)">Invoices</span>
<span class="w R" style="left:291.00px;top:353px;transform:scaleX(1.0783) rotate(0.05deg)">121000</span>
<span class="w R" style="left:437.00px;top:353px;transform:scaleX(1.0784) rotate(0.05deg)">30158.75</span>
<span class="w R" style="left:572.00px;top:353px;transform:scaleX(1.0768) rotate(0.05deg)">0</span>
<span class="w R" style="left:668.00px;top:353px;transform:scaleX(1.0768) rotate(0.05deg)">0</span>
<span class="w R" style="left:764.00px;top:353px;transform:scaleX(1.0768) rotate(0.05deg)">0</span>
<span class="w R" style="left:860.00px;top:353px;transform:scaleX(1.0768) rotate(0.05deg)">0</span>
<span class="w R" style="left:956.00px;top:353px;transform:scaleX(1.0768) rotate(0.05deg)">0</span>
<svg class="l" style="left:0;top:0" width="983" height="405"><path d="M291 45.2L293.4 43.8V46.6ZM578 45.2L575.6 43.8V46.6Z" fill="#200"/></svg>
</body></html>
